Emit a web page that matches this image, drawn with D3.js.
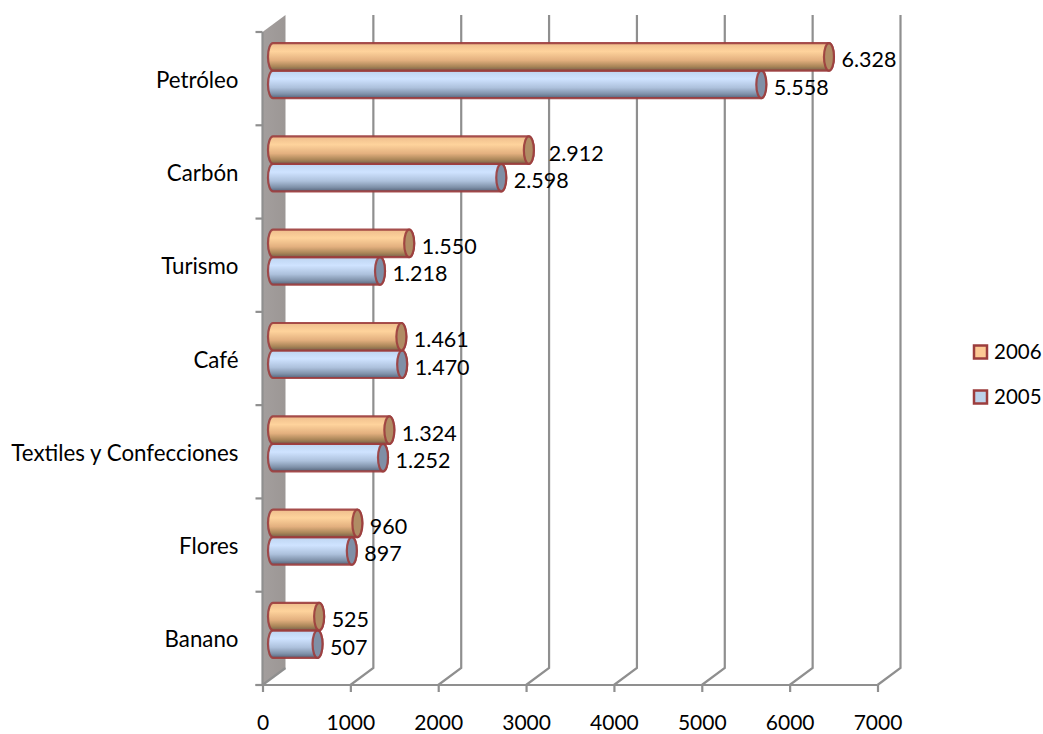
<!DOCTYPE html>
<html>
<head>
<meta charset="utf-8">
<script src="https://d3js.org/d3.v7.min.js"></script>
<style>
  html, body { margin: 0; padding: 0; background: #fff; overflow: hidden; }
  text { font-family: Lato, "Open Sans", sans-serif; fill: #000; }
</style>
</head>
<body>
<svg id="chart" width="1043" height="734"></svg>
<script>
// Exports by product, two years
const categories = ["Petróleo", "Carbón", "Turismo", "Café", "Textiles y Confecciones", "Flores", "Banano"];
const values2006 = [6328, 2912, 1550, 1461, 1324, 960, 525];
const values2005 = [5558, 2598, 1218, 1470, 1252, 897, 507];
const seriesNames = ["2006", "2005"];
const xTicks = [0, 1000, 2000, 3000, 4000, 5000, 6000, 7000];

// Oblique depth of the 3D box
const depthX = 23, depthY = -17;
const barDepthX = 10.5, barDepthY = -8;
const capRx = 5;
const categoryFont = 22.3, valueFont = 21.5, tickFont = 21, legendFont = 20.5;

const svg = d3.select("#chart");
const x = d3.scaleLinear().domain([0, 7000]).range([262.5, 877.5]);
const y = d3.scaleBand().domain(categories).range([32, 685]);
const inner = d3.scaleBand().domain(seriesNames).range([0, 55]);

const palettes = {
  "2006": { id: "grad2006", cap: "#b08c64", swatch: "#fcc994",
            stops: [[0, "#eebd8c"], [0.3, "#fed39c"], [0.62, "#e3b07f"], [0.85, "#a98558"], [1, "#75604a"]] },
  "2005": { id: "grad2005", cap: "#7f8fa6", swatch: "#bcd2ea",
            stops: [[0, "#bdd4f0"], [0.3, "#cfe3ff"], [0.62, "#adc1dc"], [0.85, "#7f91a9"], [1, "#55647a"]] }
};
const edge = "#9c3d3d";

const defs = svg.append("defs");
seriesNames.forEach(name => {
  const g = defs.append("linearGradient").attr("id", palettes[name].id)
    .attr("x1", 0).attr("y1", 0).attr("x2", 0).attr("y2", 1);
  palettes[name].stops.forEach(s => g.append("stop").attr("offset", s[0]).attr("stop-color", s[1]));
});
const wallGrad = defs.append("linearGradient").attr("id", "wallGrad")
  .attr("x1", 0).attr("y1", 0).attr("x2", 1).attr("y2", 0);
wallGrad.append("stop").attr("offset", 0).attr("stop-color", "#a39e9d");
wallGrad.append("stop").attr("offset", 1).attr("stop-color", "#9c9795");

const [yTop, yBottom] = y.range();
const gridColor = "#8f8f8f";

// Left wall of the box
svg.append("path")
  .attr("d", `M${x(0)},${yTop}L${x(0) + depthX},${yTop + depthY}L${x(0) + depthX},${yBottom + depthY}L${x(0)},${yBottom}Z`)
  .attr("fill", "url(#wallGrad)");

// Back-wall gridlines running down and then forward across the floor
svg.append("g").selectAll("path").data(xTicks.slice(1)).join("path")
  .attr("d", d => `M${x(d) + depthX},${yTop + depthY}L${x(d) + depthX},${yBottom + depthY}L${x(d)},${yBottom}`)
  .attr("fill", "none").attr("stroke", gridColor).attr("stroke-width", 2.2);

// Edge of the wall where it meets the floor
svg.append("line")
  .attr("x1", x(0)).attr("x2", x(0) + depthX)
  .attr("y1", yBottom).attr("y2", yBottom + depthY)
  .attr("stroke", gridColor).attr("stroke-width", 2.2);

// Category axis: ticks fall on band edges, labels on band centres
const bandEdges = categories.map(c => y(c)).concat([yBottom]);
svg.append("g").selectAll("line").data(bandEdges).join("line")
  .attr("x1", x(0) - 7).attr("x2", x(0)).attr("y1", d => d).attr("y2", d => d)
  .attr("stroke", gridColor).attr("stroke-width", 2.2);
svg.append("line").attr("x1", x(0)).attr("x2", x(0)).attr("y1", yTop).attr("y2", yBottom)
  .attr("stroke", gridColor).attr("stroke-width", 2.2);

const yAxis = svg.append("g")
  .attr("transform", `translate(${x(0) - 24},2)`)
  .call(d3.axisLeft(y).tickSize(0).tickPadding(0));
yAxis.select(".domain").remove();
yAxis.selectAll("text").style("font-size", categoryFont + "px");

// Value axis along the front of the floor
const xAxis = svg.append("g")
  .attr("transform", `translate(0,${yBottom})`)
  .call(d3.axisBottom(x).tickValues(xTicks).tickFormat(d3.format("d")).tickSize(7).tickPadding(23));
xAxis.select(".domain").attr("d", `M${x(0) - 7},0H${x(7000)}`)
  .attr("stroke", gridColor).attr("stroke-width", 2.2);
xAxis.selectAll(".tick line").attr("stroke", gridColor).attr("stroke-width", 2.2);
xAxis.selectAll("text").style("font-size", tickFont + "px");

// Cylinders
function rows(name, values) {
  return categories.map((c, i) => ({ category: c, name, value: values[i] }));
}
const data = [...rows("2005", values2005), ...rows("2006", values2006)];
const barH = inner.bandwidth();
const rowTop = c => y(c) + (y.bandwidth() - inner.range()[1]) / 2 + barDepthY;

function cylinderPath(d) {
  const x0 = x(0) + barDepthX;
  const x1 = x(d.value) + barDepthX;
  const top = rowTop(d.category) + inner(d.name);
  const r = barH / 2;
  return `M${x0},${top}H${x1}A${capRx},${r} 0 0 1 ${x1},${top + barH}H${x0}A${capRx},${r} 0 0 1 ${x0},${top}Z`;
}
const bars = svg.append("g").selectAll("g").data(data).join("g");
bars.append("path")
  .attr("d", cylinderPath)
  .attr("fill", d => `url(#${palettes[d.name].id})`)
  .attr("stroke", edge).attr("stroke-width", 2.2).attr("stroke-opacity", 0.9);
bars.append("ellipse")
  .attr("cx", d => x(d.value) + barDepthX)
  .attr("cy", d => rowTop(d.category) + inner(d.name) + barH / 2)
  .attr("rx", capRx).attr("ry", barH / 2)
  .attr("fill", d => palettes[d.name].cap)
  .attr("stroke", edge).attr("stroke-width", 2.2).attr("stroke-opacity", 0.9);

// Value labels with a dot as the thousands separator
const fmt = d3.formatLocale({ decimal: ",", thousands: ".", grouping: [3], currency: ["", ""] }).format(",d");
const labelShift = d => (d.name === "2006" && d.category === "Carbón") ? 15 : 7.5;
svg.append("g").selectAll("text").data(data).join("text")
  .attr("x", d => x(d.value) + barDepthX + capRx + labelShift(d))
  .attr("y", d => rowTop(d.category) + inner(d.name) + barH / 2 + 3)
  .attr("dy", "0.35em")
  .style("font-size", valueFont + "px")
  .text(d => fmt(d.value));

// Legend
const legendY = d3.scalePoint().domain(seriesNames).range([352, 397]);
const legend = svg.append("g").selectAll("g").data(seriesNames).join("g")
  .attr("transform", d => `translate(974,${legendY(d)})`);
legend.append("rect")
  .attr("x", 0).attr("y", -6.5).attr("width", 13).attr("height", 13)
  .attr("fill", d => palettes[d].swatch)
  .attr("stroke", edge).attr("stroke-width", 2.5);
legend.append("text")
  .attr("x", 20).attr("dy", "0.35em")
  .style("font-size", legendFont + "px")
  .text(d => d);
</script>
</body>
</html>
